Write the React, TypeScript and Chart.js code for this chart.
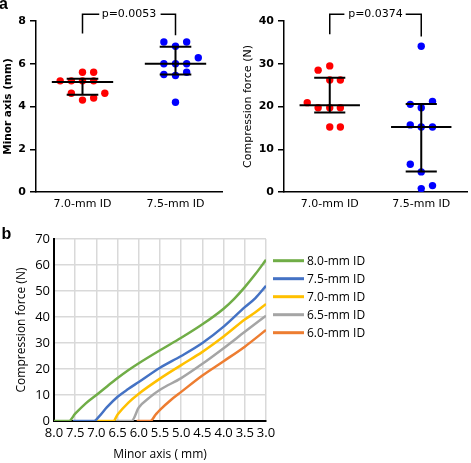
import React, { useEffect, useRef } from "react";
import { Chart, registerables } from "chart.js";
Chart.register(...registerables);

// ---------- Panel a data ----------
const groupLabels = ["7.0-mm ID", "7.5-mm ID"];
const groupCenters = [0.5, 1.5];

// Minor axis (mm)
const minor70X = [0.26, 0.38, 0.5, 0.62, 0.5, 0.62, 0.38, 0.74, 0.5, 0.62];
const minor70Y = [5.2, 5.2, 5.2, 5.2, 5.6, 5.6, 4.62, 4.62, 4.3, 4.4];
const minor75X = [1.375, 1.62, 1.5, 1.745, 1.375, 1.5, 1.62, 1.375, 1.5, 1.62, 1.5];
const minor75Y = [7.02, 7.02, 6.82, 6.28, 6.0, 6.0, 6.0, 5.5, 5.45, 5.6, 4.2];
const minorMedian = [5.15, 6.0];
const minorUpper = [5.3, 6.8];
const minorLower = [4.55, 5.5];
const minorTicks = [0, 2, 4, 6, 8];

// Compression force (N)
const force70X = [0.373, 0.5, 0.5, 0.616, 0.254, 0.373, 0.5, 0.616, 0.5, 0.616];
const force70Y = [28.5, 29.5, 26.2, 26.2, 20.9, 19.7, 19.7, 19.7, 15.2, 15.2];
const force75X = [1.5, 1.38, 1.623, 1.5, 1.38, 1.5, 1.623, 1.38, 1.5, 1.5, 1.623];
const force75Y = [34.1, 20.5, 21.2, 19.7, 15.7, 15.2, 15.2, 6.5, 4.7, 0.8, 1.5];
const forceMedian = [20.3, 15.2];
const forceUpper = [26.7, 20.6];
const forceLower = [18.6, 4.8];
const forceTicks = [0, 10, 20, 30, 40];

const pValues = ["p=0.0053", "p=0.0374"];
// bracket: [top, left leg bottom, right leg bottom]
const minorBracket = [8.31, 7.41, 7.33];
const forceBracket = [41.57, 36.9, 36.4];

// ---------- Panel b data ----------
const curveLabels = ["8.0-mm ID", "7.5-mm ID", "7.0-mm ID", "6.5-mm ID", "6.0-mm ID"];
const curveColors = ["#70ad47", "#4472c4", "#ffc000", "#a5a5a5", "#ed7d31"];
const id80X = [8.0, 7.65, 7.5, 7.25, 7.0, 6.75, 6.5, 6.25, 6.0, 5.5, 5.0, 4.5, 4.0, 3.75, 3.5, 3.25, 3.0];
const id80Y = [0, 0, 2.8, 6.8, 10, 13.3, 16.5, 19.5, 22.2, 27.2, 32, 37.2, 43.2, 47, 51.5, 56.5, 62];
const id75X = [7.55, 7.05, 6.95, 6.75, 6.5, 6.25, 6.0, 5.5, 5.0, 4.5, 4.0, 3.5, 3.25, 3.0];
const id75Y = [0, 0, 1.5, 5.3, 9.3, 12.3, 15, 20.5, 25, 30, 36.3, 43.8, 47.3, 52];
const id70X = [7.05, 6.6, 6.5, 6.25, 6.0, 5.5, 5.0, 4.5, 4.0, 3.5, 3.25, 3.0];
const id70Y = [0, 0, 2.5, 7, 10.5, 16.3, 21.5, 26.6, 32.5, 39, 41.8, 45];
const id65X = [6.55, 6.17, 6.0, 5.75, 5.5, 5.0, 4.5, 4.0, 3.5, 3.0];
const id65Y = [0, 0, 5.2, 9, 12, 16.5, 22, 28, 34.3, 40.5];
const id60X = [6.05, 5.73, 5.6, 5.5, 5.25, 5.0, 4.5, 4.0, 3.5, 3.0];
const id60Y = [0, 0, 2.5, 4.3, 8, 11.2, 17.5, 23, 28.6, 35];
const curveXs = [id80X, id75X, id70X, id65X, id60X];
const curveYs = [id80Y, id75Y, id70Y, id65Y, id60Y];

const zip = (xs: number[], ys: number[]) => xs.map((x, i) => ({ x, y: ys[i] }));

function statsPoints(c: number, m: number, u: number, l: number, halfMed: number, halfCap: number) {
  return [
    { x: c - halfMed, y: m }, { x: c + halfMed, y: m }, { x: c, y: null },
    { x: c - halfCap, y: u }, { x: c + halfCap, y: u }, { x: c, y: null },
    { x: c - halfCap, y: l }, { x: c + halfCap, y: l }, { x: c, y: null },
    { x: c, y: u }, { x: c, y: l },
  ];
}

function bracketPoints(b: number[], gapL: number, gapR: number) {
  return [
    { x: groupCenters[0], y: b[1] }, { x: groupCenters[0], y: b[0] }, { x: gapL, y: b[0] },
    { x: 1, y: null },
    { x: gapR, y: b[0] }, { x: groupCenters[1], y: b[0] }, { x: groupCenters[1], y: b[2] },
  ];
}

function makeScatterConfig(opts: {
  xs: number[][]; ys: number[][]; median: number[]; upper: number[]; lower: number[];
  ticks: number[]; title: string; titleBold: boolean; titlePad: number; yWidth: number;
  padRight: number; bracket: number[]; gapL: number; gapR: number; p: string;
}) {
  const font = "DejaVu Sans";
  const colors = ["#ff0000", "#0000ff"];
  const datasets: any[] = [];
  for (let g = 0; g < 2; g++) {
    datasets.push({
      label: "stats" + g,
      data: statsPoints(groupCenters[g], opts.median[g], opts.upper[g], opts.lower[g], 0.33, 0.17),
      showLine: true, borderColor: "#000", borderWidth: 2, pointRadius: 0, spanGaps: false, order: 0,
    });
  }
  for (let g = 0; g < 2; g++) {
    datasets.push({
      label: groupLabels[g],
      data: zip(opts.xs[g], opts.ys[g]),
      pointRadius: 3.7, pointBackgroundColor: colors[g], pointBorderWidth: 0, order: 1,
    });
  }
  datasets.push({
    label: "bracket",
    data: bracketPoints(opts.bracket, opts.gapL, opts.gapR),
    showLine: true, borderColor: "#000", borderWidth: 1.5, pointRadius: 0, spanGaps: false, clip: false, order: 0,
  });
  const yMax = opts.ticks[opts.ticks.length - 1];
  const pPlugin = {
    id: "pvalue",
    afterDatasetsDraw(chart: any) {
      const { ctx, scales } = chart;
      ctx.save();
      ctx.font = `11px "${font}"`;
      ctx.fillStyle = "#000";
      ctx.textAlign = "center";
      ctx.textBaseline = "middle";
      ctx.fillText(opts.p, scales.x.getPixelForValue(1), scales.y.getPixelForValue(opts.bracket[0]));
      ctx.restore();
    },
  };
  return {
    type: "scatter",
    data: { datasets },
    plugins: [pPlugin],
    options: {
      animation: false,
      responsive: false,
      layout: { padding: { top: 21, right: opts.padRight, bottom: 0, left: 0 } },
      plugins: { legend: { display: false }, tooltip: { enabled: false } },
      scales: {
        x: {
          type: "linear", min: 0, max: 2,
          afterBuildTicks: (s: any) => { s.ticks = groupCenters.map((v) => ({ value: v })); },
          afterFit: (s: any) => { s.height = 23; },
          grid: { display: false, drawTicks: false },
          border: { display: true, color: "#000", width: 1.5 },
          ticks: {
            padding: 5.4, color: "#000", font: { family: font, size: 11 }, autoSkip: false, maxRotation: 0,
            callback: (_v: any, i: number) => groupLabels[i],
          },
        },
        y: {
          type: "linear", min: 0, max: yMax,
          afterBuildTicks: (s: any) => { s.ticks = opts.ticks.map((v) => ({ value: v })); },
          afterFit: (s: any) => { s.width = opts.yWidth; },
          grid: { display: true, drawOnChartArea: false, drawTicks: true, tickLength: 6, color: "#000", lineWidth: 1.5 },
          border: { display: true, color: "#000", width: 1.5 },
          ticks: { padding: 4, color: "#000", font: { family: font, size: 11, weight: "bold" } },
          title: {
            display: true, text: opts.title, color: "#000",
            font: { family: font, size: opts.titleBold ? 10.5 : 11, weight: opts.titleBold ? "bold" : "normal" },
            padding: { top: opts.titlePad, bottom: 0 },
          },
        },
      },
    },
  };
}

function makeCurveConfig() {
  const font = "Open Sans";
  const datasets = curveLabels.map((label, i) => ({
    label,
    data: zip(curveXs[i], curveYs[i]),
    showLine: true,
    borderColor: curveColors[i],
    backgroundColor: curveColors[i],
    borderWidth: 2.5,
    pointRadius: 0,
    cubicInterpolationMode: "monotone",
  }));
  const legendPlugin = {
    id: "sideLegend",
    afterDraw(chart: any) {
      const { ctx, chartArea } = chart;
      ctx.save();
      ctx.font = `12px "${font}"`;
      ctx.textBaseline = "middle";
      ctx.textAlign = "left";
      chart.data.datasets.forEach((ds: any, i: number) => {
        const y = chartArea.top + 21.7 + i * 18;
        ctx.strokeStyle = ds.borderColor;
        ctx.lineWidth = 3;
        ctx.beginPath();
        ctx.moveTo(chartArea.right + 7, y);
        ctx.lineTo(chartArea.right + 38, y);
        ctx.stroke();
        ctx.fillStyle = "#000";
        ctx.fillText(ds.label, chartArea.right + 41, y + 0.5);
      });
      ctx.restore();
    },
  };
  return {
    type: "scatter",
    data: { datasets },
    plugins: [legendPlugin],
    options: {
      animation: false,
      responsive: false,
      layout: { padding: { top: 24, right: 205, bottom: 0, left: 0 } },
      plugins: { legend: { display: false }, tooltip: { enabled: false } },
      scales: {
        x: {
          type: "linear", min: 3, max: 8, reverse: true,
          afterFit: (s: any) => { s.height = 42; },
          grid: { display: true, drawTicks: false, color: "#d9d9d9", lineWidth: 1.5 },
          border: { display: true, color: "#000", width: 2 },
          ticks: {
            stepSize: 0.5, padding: 4, color: "#000", font: { family: font, size: 13 },
            autoSkip: false, maxRotation: 0, minRotation: 0,
            callback: (v: any) => Number(v).toFixed(1),
          },
          title: {
            display: true, text: "Minor axis ( mm)", color: "#000",
            font: { family: font, size: 12 }, padding: { top: 0, bottom: 1 },
          },
        },
        y: {
          type: "linear", min: 0, max: 70,
          afterFit: (s: any) => { s.width = 54; },
          grid: { display: true, drawTicks: false, color: "#d9d9d9", lineWidth: 1.5 },
          border: { display: true, color: "#000", width: 2 },
          ticks: { stepSize: 10, padding: 4, color: "#000", font: { family: font, size: 13 } },
          title: {
            display: true, text: "Compression force (N)", color: "#000",
            font: { family: font, size: 12 }, padding: { top: 14.8, bottom: 0 },
          },
        },
      },
    },
  };
}

function useChart(ref: React.RefObject<HTMLCanvasElement | null>, build: () => any) {
  useEffect(() => {
    if (!ref.current) return;
    const chart = new Chart(ref.current, build());
    return () => chart.destroy();
  }, []);
}

export default function App() {
  const leftRef = useRef<HTMLCanvasElement>(null);
  const rightRef = useRef<HTMLCanvasElement>(null);
  const bottomRef = useRef<HTMLCanvasElement>(null);

  useChart(leftRef, () =>
    makeScatterConfig({
      xs: [minor70X, minor75X], ys: [minor70Y, minor75Y],
      median: minorMedian, upper: minorUpper, lower: minorLower,
      ticks: minorTicks, title: "Minor axis (mm)", titleBold: true, titlePad: 1.8,
      yWidth: 36, padRight: 13, bracket: minorBracket, gapL: 0.68, gapR: 1.34, p: pValues[0],
    })
  );
  useChart(rightRef, () =>
    makeScatterConfig({
      xs: [force70X, force75X], ys: [force70Y, force75Y],
      median: forceMedian, upper: forceUpper, lower: forceLower,
      ticks: forceTicks, title: "Compression force (N)", titleBold: false, titlePad: 6.4,
      yWidth: 49, padRight: 1, bracket: forceBracket, gapL: 0.66, gapR: 1.33, p: pValues[1],
    })
  );
  useChart(bottomRef, makeCurveConfig);

  const panelLabel: React.CSSProperties = {
    position: "absolute",
    fontFamily: '"Liberation Sans", Arial, sans-serif',
    fontWeight: "bold",
    fontSize: 16,
    lineHeight: "16px",
    color: "#000",
  };

  return (
    <div style={{ position: "absolute", left: 0, top: 0, width: 471, height: 463, background: "#fff", overflow: "hidden" }}>
      <canvas ref={leftRef} width={235} height={215} style={{ position: "absolute", left: 0, top: 0, width: 235, height: 215 }} />
      <canvas ref={rightRef} width={236} height={215} style={{ position: "absolute", left: 235, top: 0, width: 236, height: 215 }} />
      <canvas ref={bottomRef} width={471} height={248} style={{ position: "absolute", left: 0, top: 215, width: 471, height: 248 }} />
      <div style={{ ...panelLabel, left: -1, top: -4.5 }}>a</div>
      <div style={{ ...panelLabel, left: 1.5, top: 226.4 }}>b</div>
    </div>
  );
}
